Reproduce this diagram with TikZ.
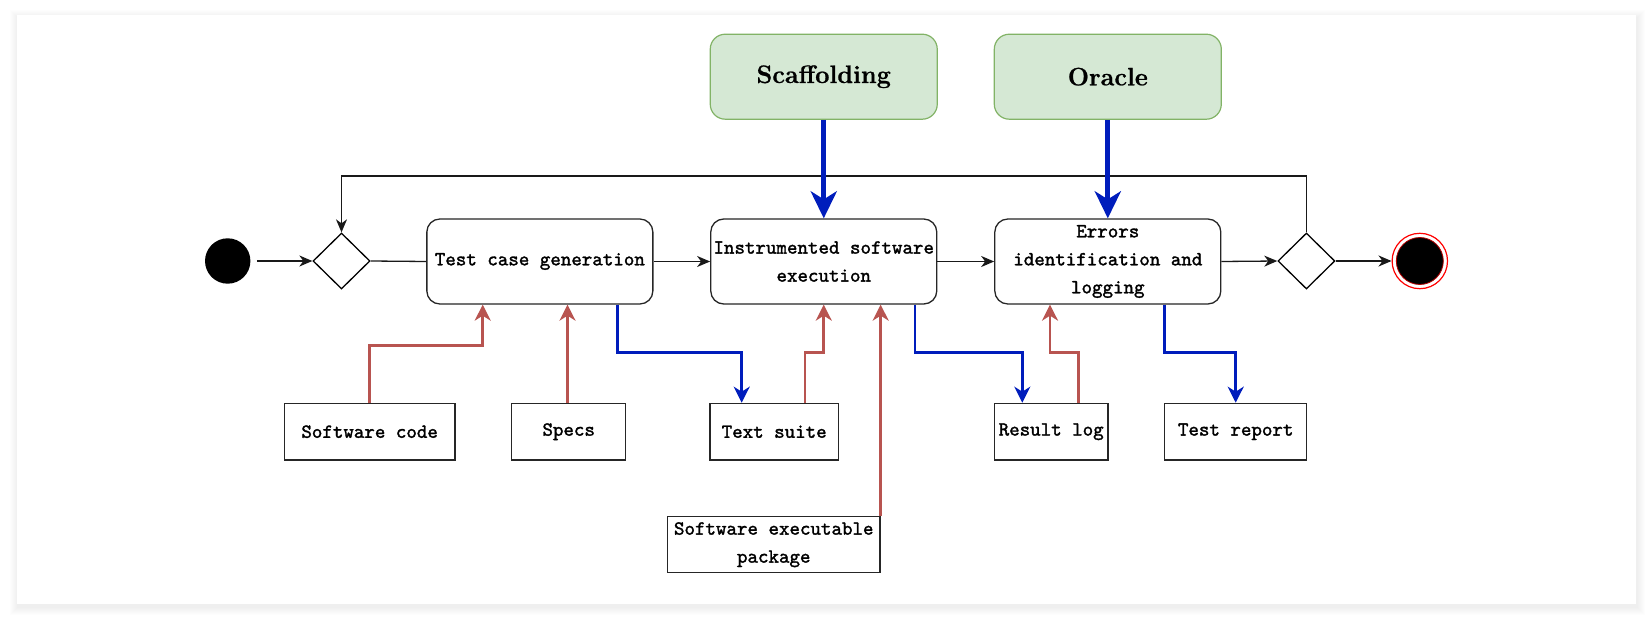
\documentclass[tikz,border=0pt]{standalone}
\usepackage{fontspec}
\newfontfamily\monob{Latin Modern Mono}[FakeBold=1.6]
\newfontfamily\serifb{Latin Modern Roman}[UprightFont=*/B, FakeBold=0.8]
\usetikzlibrary{arrows.meta,shapes.geometric}
\definecolor{gfill}{HTML}{D5E8D4}
\definecolor{gdraw}{HTML}{82B366}
\definecolor{rline}{HTML}{B85450}
\definecolor{bline}{HTML}{001DBC}
\begin{document}
\begin{tikzpicture}[x=0.5pt,y=-0.5pt,
  ttf/.style={font=\monob\fontsize{10}{14}\selectfont},
  proc/.style={ttf, draw=black!85, line width=0.65pt, rounded corners=6.5pt,
    minimum width=113pt, minimum height=42.5pt, align=center, inner sep=0pt},
  datab/.style={ttf, draw=black!85, line width=0.65pt, minimum height=28.35pt,
    align=center, inner sep=0pt},
  greenbox/.style={draw=gdraw, fill=gfill, line width=0.6pt, rounded corners=7.5pt,
    minimum width=113.5pt, minimum height=42.5pt, font=\serifb\fontsize{12.6}{15}\selectfont},
  decis/.style={diamond, draw=black, line width=0.65pt, minimum width=28.5pt,
    minimum height=28pt, inner sep=0pt},
  plain/.style={draw=black!90, line width=0.65pt},
  flow/.style={plain, -{Stealth[length=6.5pt,width=5.5pt,inset=2pt]}},
  inred/.style={draw=rline, line width=1.3pt, -{Stealth[length=8pt,width=8pt,inset=2.5pt]}},
  outblue/.style={draw=bline, line width=1.3pt, -{Stealth[length=8pt,width=8pt,inset=2.5pt]}},
  thickblue/.style={draw=bline, line width=2.4pt, -{Stealth[length=13.5pt,width=13pt,inset=4pt]}}
]
\useasboundingbox (0,0) rectangle (1652,620);
\fill[white] (0,0) rectangle (1652,620);
\foreach \i in {1,...,8}{
  \fill[black, opacity=0.009] (17-\i+1,15-\i+3) rectangle (1636+\i+1,604+\i+3);
}
\fill[white] (17,15) rectangle (1636,604);

% main flow
\node[circle, fill=black, inner sep=0pt, minimum size=22.7pt] (start) at (227.7,261) {};
\node[decis] (d1) at (341.5,261) {};
\node[proc] (tc) at (539.85,261.5) {Test case generation};
\node[proc] (ie) at (823.75,261.5) {Instrumented software\\execution};
\node[proc] (eil) at (1107.8,261.5) {Errors\\identification and\\logging};
\node[decis] (d2) at (1306.4,261) {};
\node[circle, draw=red, fill=white, line width=0.6pt, inner sep=0pt, minimum size=27.7pt] (end) at (1419.8,261) {};
\node[circle, fill=black, draw=red!70!black, line width=0.4pt, inner sep=0pt, minimum size=23.5pt] (endcore) at (end.center) {};

% top resources
\node[greenbox] (scaf) at (823.75,76.7) {Scaffolding};
\node[greenbox] (orac) at (1107.8,76.7) {Oracle};

% artefacts
\node[datab, minimum width=85.35pt] (sc) at (369.65,431.7) {Software code};
\node[datab, minimum width=57pt] (specs) at (568.7,431.7) {Specs};
\node[datab, minimum width=64.15pt] (ts) at (774.2,431.7) {Text suite};
\node[datab, minimum width=56.85pt] (rl) at (1051.2,431.7) {Result log};
\node[datab, minimum width=71pt] (tr) at (1235.7,431.7) {Test report};
\node[datab, minimum width=106.25pt, minimum height=28pt] (sep) at (773.75,544.7) {Software executable\\package};

\coordinate (loopR) at (1306.4,176);
\coordinate (loopL) at (341.5,176);

% black connectors
\draw[flow, shorten <=3pt] (start) -- (d1.west);
\draw[plain] (d1.east) -- (tc.west);
\draw[flow] (tc.east) -- (ie.west);
\draw[flow] (ie.east) -- (eil.west);
\draw[flow] (eil.east) -- (d2.west);
\draw[flow] (d2.east) -- (end.west);
\draw[flow] (d2.north) -- (loopR) -- (loopL) -- (d1.north);

% thick blue
\draw[thickblue] (scaf.south) -- (ie.north);
\draw[thickblue] (orac.south) -- (eil.north);

% red inputs
\draw[inred] (sc.north) |- (482.7,345.7) -- (tc.south -| 482.7,0);
\draw[inred] (specs.north -| 567.5,0) -- (tc.south -| 567.5,0);
\draw[inred] (ts.north -| 805,0) |- (823.75,352.3) -- (ie.south);
\draw[inred] (sep.north east) -- (ie.south -| sep.north east);
\draw[inred] (rl.north -| 1078.3,0) |- (1050,352.3) -- (eil.south -| 1050,0);

% blue outputs
\draw[outblue] (tc.south -| 617.3,0) |- (741.7,352.3) -- (ts.north -| 741.7,0);
\draw[outblue] (ie.south -| 915,0) |- (1022.3,352.3) -- (rl.north -| 1022.3,0);
\draw[outblue] (eil.south -| 1164.3,0) |- (1235.7,352.3) -- (tr.north);
\end{tikzpicture}
\end{document}
